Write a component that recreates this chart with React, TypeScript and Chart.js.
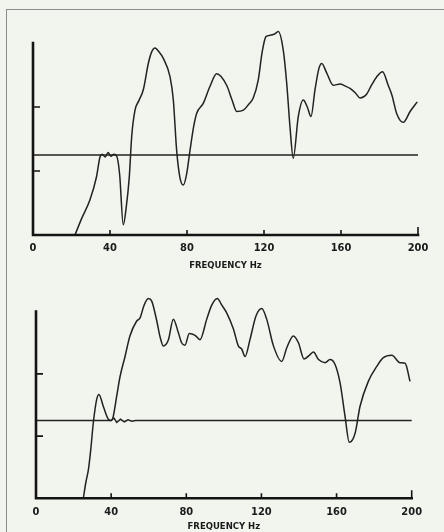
import React, { useEffect, useRef } from "react";
import { Chart, registerables } from "chart.js";

Chart.register(...registerables);

// ---- data ----
const xTicks = [0, 40, 80, 120, 160, 200];
const yTicks = [10, 20];
const axisTitle = "FREQUENCY Hz";

const topFreq = [
  21.8, 25.3, 29.6, 33, 34.8, 36, 37.5, 39, 40.5, 42, 43.5, 45, 46.9, 48.5, 50, 51.3, 53, 55,
  57.3, 59.9, 61.5, 63.4, 65.5, 67.7, 71.2, 72.9, 74.6, 76.3, 78.1, 79.8, 81.6, 83.5, 85, 88.5,
  91.9, 95.4, 100.6, 103.5, 105.8, 109.3, 112, 114.4, 117, 119, 121, 123.1, 125.5, 127.4, 130,
  131.8, 133.5, 135.2, 137.8, 140.4, 142.5, 144.4, 146.5, 148.5, 150, 152.6, 156, 159.5, 162,
  164.7, 167.5, 169.9, 173.3, 176, 178.5, 181.6, 184.5, 186.5, 188.9, 192.4, 195.9, 199.6,
];
const topLevel = [
  0, 2.6, 5.5, 9.1, 12.2, 12.6, 12.2, 12.9, 12.3, 12.6, 12.3, 9.5, 1.6, 4.5, 9, 15.5, 19.5, 21,
  22.7, 26.8, 28.5, 29.2, 28.6, 27.6, 24.7, 21.1, 13.3, 9, 7.8, 9.5, 13.3, 17, 19, 20.6,
  23.2, 25.2, 23.4, 21, 19.3, 19.5, 20.4, 21.4, 24.2, 28.5, 31, 31.2, 31.4, 31.8, 28.9,
  23.7, 16.9, 12, 18.5, 21.1, 20, 18.5, 22.7, 26, 26.8, 25.3, 23.4, 23.6, 23.3,
  22.9, 22.2, 21.4, 22, 23.5, 24.7, 25.5, 23.4, 21.8, 19, 17.6, 19.3, 20.8,
];
const topRefFreq = [0, 200];
const topRefLevel = [12.5, 12.5];

const botFreq = [
  25.2, 26.5, 27.9, 29.2, 30.5, 32.3, 33.5, 35.8, 38.5, 40, 41, 43, 44.7, 47.4, 50, 53.6, 55.4,
  57.5, 59.8, 61.6, 64.3, 66, 67.8, 70.5, 73.1, 75.8, 77.5, 79.3, 81.6, 84.7, 87.3, 90.9, 93.5,
  96.5, 99, 101.5, 105.1, 107.7, 109.5, 111.3, 113.9, 117.1, 120.2, 122.8, 126.4, 130.8, 133.5,
  137, 139.7, 142.7, 145.9, 147.7, 150.4, 153.9, 156.5, 159.2, 161.9, 164.5, 166.8, 169.9,
  172.5, 176.9, 181.4, 184.9, 189.4, 193.8, 196.5, 199.1,
];
const botLevel = [
  0, 2.5, 4.6, 8, 12.1, 15.9, 16.7, 14.8, 12.7, 12.5, 13, 16.5, 19.5, 22.8, 26.1, 28.5, 29,
  31, 32.1, 31.7, 28.5, 26, 24.5, 25.5, 28.8, 26.6, 25, 24.6, 26.5, 26.2, 25.5, 28.8, 31,
  32.1, 31, 29.8, 27.2, 24.5, 24, 22.8, 25.5, 29.3, 30.5, 28.8, 24.5, 22, 24.2,
  26.1, 25, 22.4, 23.1, 23.5, 22.3, 21.8, 22.3, 21.5, 18.5, 13.2, 9, 10.5,
  14.8, 18.8, 21.2, 22.6, 23, 21.8, 21.7, 18.8,
];
const botRefFreq = [0, 40, 41.5, 43, 45, 47, 49, 51, 53, 200];
const botRefLevel = [12.5, 12.5, 12.9, 12.2, 12.7, 12.3, 12.6, 12.4, 12.5, 12.5];

// ---- styling ----
const INK = "#222222";
const LABEL_FONT = "'Liberation Sans Narrow', 'DejaVu Sans Condensed', 'Liberation Sans', sans-serif";
const TITLE_FONT = "'DejaVu Sans', 'Liberation Sans', sans-serif";

const axesPlugin = {
  id: "handAxes",
  afterDatasetsDraw(chart: any) {
    const { ctx } = chart;
    const x = chart.scales.x;
    const y = chart.scales.y;
    const x0 = x.getPixelForValue(0);
    const x1 = x.getPixelForValue(200);
    const y0 = y.getPixelForValue(0);
    const y1 = y.getPixelForValue(30);
    ctx.save();
    ctx.strokeStyle = "#141414";
    ctx.lineWidth = 2.6;
    ctx.lineCap = "square";
    ctx.beginPath();
    ctx.moveTo(x0, y1);
    ctx.lineTo(x0, y0);
    ctx.lineTo(x1, y0);
    ctx.stroke();
    ctx.lineWidth = 1.6;
    ctx.lineCap = "butt";
    ctx.beginPath();
    yTicks.forEach((v) => {
      const py = y.getPixelForValue(v);
      ctx.moveTo(x0, py);
      ctx.lineTo(x0 + 7, py);
    });
    xTicks.slice(1).forEach((v) => {
      const px = x.getPixelForValue(v);
      ctx.moveTo(px, y0);
      ctx.lineTo(px, y0 - (v === 200 ? 8 : 5));
    });
    ctx.stroke();
    ctx.restore();
  },
};

type PlotProps = {
  top: number;
  height: number;
  freq: number[];
  level: number[];
  refFreq: number[];
  refLevel: number[];
  pad: { left: number; right: number; top: number; bottom: number };
  axisHeight: number;
  labelPad: number;
};

function Plot(props: PlotProps) {
  const ref = useRef<HTMLCanvasElement | null>(null);
  useEffect(() => {
    if (!ref.current) return;
    const chart = new Chart(ref.current, {
      type: "line",
      data: {
        datasets: [
          {
            data: props.refFreq.map((f, i) => ({ x: f, y: props.refLevel[i] })),
            borderColor: INK,
            borderWidth: 1.5,
            pointRadius: 0,
            tension: 0,
            clip: false as any,
          },
          {
            data: props.freq.map((f, i) => ({ x: f, y: props.level[i] })),
            borderColor: INK,
            borderWidth: 1.5,
            pointRadius: 0,
            cubicInterpolationMode: "monotone",
            clip: false as any,
          },
        ],
      },
      options: {
        animation: false,
        responsive: false,
        layout: { padding: props.pad },
        plugins: { legend: { display: false }, tooltip: { enabled: false } },
        scales: {
          x: {
            type: "linear",
            min: 0,
            max: 200,
            grid: { display: false, drawTicks: false },
            border: { display: false },
            afterBuildTicks: (s: any) => {
              s.ticks = xTicks.map((v) => ({ value: v }));
            },
            afterFit: (s: any) => {
              s.height = props.axisHeight;
            },
            ticks: {
              padding: props.labelPad,
              color: "#1a1a1a",
              maxRotation: 0,
              autoSkip: false,
              font: { family: LABEL_FONT, size: 11, weight: "bold" },
            },
            title: {
              display: true,
              text: axisTitle,
              color: "#1a1a1a",
              padding: { top: 0, bottom: 0 },
              font: { family: TITLE_FONT, size: 8.5, weight: "bold" },
            },
          },
          y: { display: false, min: 0, max: 33 },
        },
      },
      plugins: [axesPlugin],
    } as any);
    return () => chart.destroy();
  }, []);
  return (
    <canvas
      ref={ref}
      width={444}
      height={props.height}
      style={{ position: "absolute", left: 0, top: props.top, width: 444, height: props.height }}
    />
  );
}

export default function App() {
  return (
    <div
      style={{
        position: "absolute",
        left: 0,
        top: 0,
        width: 444,
        height: 532,
        background: "#f2f4ee",
        overflow: "hidden",
      }}
    >
      <div
        style={{
          position: "absolute",
          left: 6,
          top: 9,
          width: 460,
          height: 540,
          borderLeft: "1.5px solid #8c8c8c",
          borderTop: "1.5px solid #8c8c8c",
        }}
      />
      <Plot
        top={0}
        height={275}
        freq={topFreq}
        level={topLevel}
        refFreq={topRefFreq}
        refLevel={topRefLevel}
        pad={{ left: 33, right: 26, top: 23.8, bottom: 4 }}
        axisHeight={36}
        labelPad={7}
      />
      <Plot
        top={262}
        height={270}
        freq={botFreq}
        level={botLevel}
        refFreq={botRefFreq}
        refLevel={botRefLevel}
        pad={{ left: 36, right: 32.3, top: 31, bottom: 0.4 }}
        axisHeight={33.3}
        labelPad={7.1}
      />
    </div>
  );
}
